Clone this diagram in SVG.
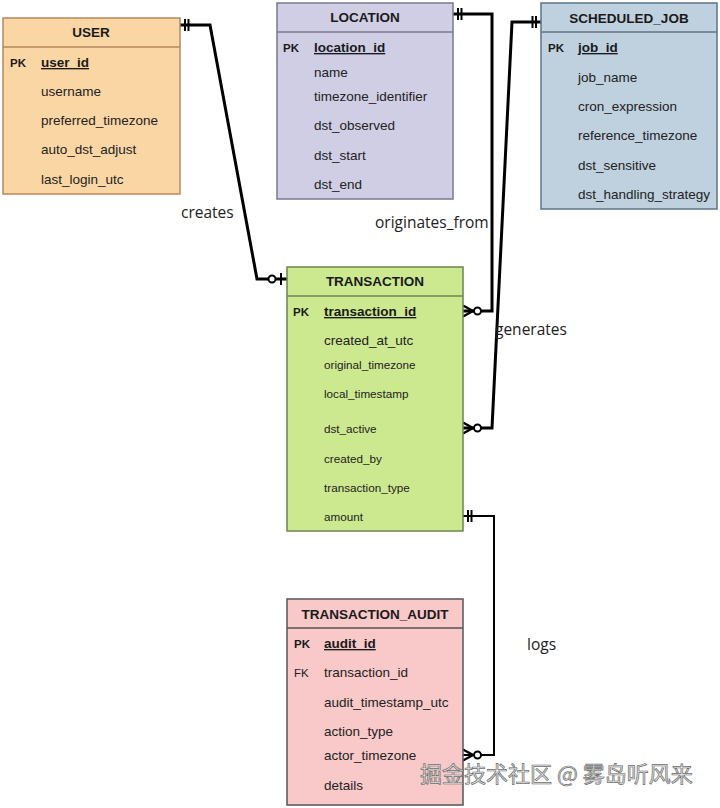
<svg xmlns="http://www.w3.org/2000/svg" width="720" height="808" viewBox="0 0 720 808">
<style>
.box{stroke-width:1.5}
.hd{font-family:"Liberation Sans",Arial,sans-serif;font-weight:bold;font-size:13.5px;fill:#1a1a1a;text-anchor:middle}
.f{font-family:"Liberation Sans",Arial,sans-serif;font-size:13.5px;fill:#222}
.fs{font-family:"Liberation Sans",Arial,sans-serif;font-size:11.7px;fill:#222}
.pk{font-family:"Liberation Sans",Arial,sans-serif;font-size:11.5px;font-weight:bold;fill:#1a1a1a}
.fk{font-family:"Liberation Sans",Arial,sans-serif;font-size:11.5px;fill:#222}
.key{font-family:"Liberation Sans",Arial,sans-serif;font-size:13.5px;font-weight:bold;fill:#1a1a1a;text-decoration:underline}
.lbl{font-family:"Open Sans","Noto Sans",sans-serif;font-size:15.5px;fill:#222}
.conn{fill:none;stroke:#000;stroke-width:3;stroke-linejoin:miter}
.wm{font-family:"Noto Sans CJK SC","Noto Sans",sans-serif;font-size:22px;fill:#e6e6e6;stroke:#6e6e6e;stroke-width:0.7}
</style>
<defs>
<marker id="one" markerUnits="userSpaceOnUse" viewBox="-20 -10 20 20" markerWidth="20" markerHeight="20" refX="0" refY="0" orient="auto-start-reverse" overflow="visible">
<path d="M-5,-6 V6 M-8.5,-6 V6" stroke="#000" stroke-width="2" fill="none"/>
</marker>
<marker id="zeroOne" markerUnits="userSpaceOnUse" viewBox="-20 -10 20 20" markerWidth="20" markerHeight="20" refX="0" refY="0" orient="auto-start-reverse" overflow="visible">
<path d="M-6,-6 V6" stroke="#000" stroke-width="2" fill="none"/>
<circle cx="-15" cy="0" r="3.5" fill="#fff" stroke="#000" stroke-width="2"/>
</marker>
<marker id="zeroMany" markerUnits="userSpaceOnUse" viewBox="-20 -10 20 20" markerWidth="20" markerHeight="20" refX="0" refY="0" orient="auto-start-reverse" overflow="visible">
<path d="M0,-5.5 L-10,0 L0,5.5" stroke="#000" stroke-width="2.4" fill="none"/>
<circle cx="-14.5" cy="0" r="3.5" fill="#fff" stroke="#000" stroke-width="2"/>
</marker>
</defs>
<rect width="720" height="808" fill="#fff"/>

<g id="connectors">
<path class="conn" d="M180,25 H210 L257,279 H287" marker-start="url(#one)" marker-end="url(#zeroOne)"/>
<path class="conn" d="M453,14 H492 V311 H463" marker-start="url(#one)" marker-end="url(#zeroMany)"/>
<path class="conn" d="M541,22 H512 L492,428 H463" marker-start="url(#one)" marker-end="url(#zeroMany)"/>
<path class="conn" style="stroke-width:2" d="M463,516 H494 V755 H463" marker-start="url(#one)" marker-end="url(#zeroMany)"/>
<text class="lbl" x="181" y="218">creates</text>
<text class="lbl" x="375" y="228">originates_from</text>
<text class="lbl" x="495" y="335">generates</text>
<text class="lbl" x="527" y="650">logs</text>
</g>

<g id="user">
<rect class="box" x="3" y="18" width="177" height="176" fill="#fad6a5" stroke="#b8895a"/>
<line x1="3" y1="47" x2="180" y2="47" stroke="#b8895a" stroke-width="1.5"/>
<text class="hd" x="91" y="37">USER</text>
<text class="pk" x="10" y="67">PK</text>
<text class="key" x="41" y="67">user_id</text>
<text class="f" x="41" y="96">username</text>
<text class="f" x="41" y="125">preferred_timezone</text>
<text class="f" x="41" y="154">auto_dst_adjust</text>
<text class="f" x="41" y="184">last_login_utc</text>
</g>

<g id="location">
<rect class="box" x="277" y="3" width="176" height="196" fill="#d0cee4" stroke="#7a7a8e"/>
<line x1="277" y1="32" x2="453" y2="32" stroke="#7a7a8e" stroke-width="1.5"/>
<text class="hd" x="365" y="22">LOCATION</text>
<text class="pk" x="283" y="52">PK</text>
<text class="key" x="314" y="52">location_id</text>
<text class="f" x="314" y="77">name</text>
<text class="f" x="314" y="101">timezone_identifier</text>
<text class="f" x="314" y="130">dst_observed</text>
<text class="f" x="314" y="160">dst_start</text>
<text class="f" x="314" y="189">dst_end</text>
</g>

<g id="scheduled_job">
<rect class="box" x="541" y="3" width="176" height="206" fill="#bfd0de" stroke="#5f7384"/>
<line x1="541" y1="32" x2="717" y2="32" stroke="#5f7384" stroke-width="1.5"/>
<text class="hd" x="629" y="23">SCHEDULED_JOB</text>
<text class="pk" x="548" y="52">PK</text>
<text class="key" x="578" y="52">job_id</text>
<text class="f" x="578" y="82">job_name</text>
<text class="f" x="578" y="111">cron_expression</text>
<text class="f" x="578" y="140">reference_timezone</text>
<text class="f" x="578" y="170">dst_sensitive</text>
<text class="f" x="578" y="199">dst_handling_strategy</text>
</g>

<g id="transaction">
<rect class="box" x="287" y="267" width="176" height="264" fill="#cde98f" stroke="#6f8250"/>
<line x1="287" y1="296" x2="463" y2="296" stroke="#6f8250" stroke-width="1.5"/>
<text class="hd" x="375" y="286">TRANSACTION</text>
<text class="pk" x="293" y="316">PK</text>
<text class="key" x="324" y="316">transaction_id</text>
<text class="f" x="324" y="345">created_at_utc</text>
<text class="fs" x="324" y="369">original_timezone</text>
<text class="fs" x="324" y="398">local_timestamp</text>
<text class="fs" x="324" y="433">dst_active</text>
<text class="fs" x="324" y="463">created_by</text>
<text class="fs" x="324" y="492">transaction_type</text>
<text class="fs" x="324" y="521">amount</text>
</g>

<g id="transaction_audit">
<rect class="box" x="287" y="599" width="176" height="206" fill="#f8c9c8" stroke="#555"/>
<line x1="287" y1="628" x2="463" y2="628" stroke="#555" stroke-width="1.5"/>
<text class="hd" x="375" y="619">TRANSACTION_AUDIT</text>
<text class="pk" x="294" y="648">PK</text>
<text class="key" x="324" y="648">audit_id</text>
<text class="fk" x="294" y="677">FK</text>
<text class="f" x="324" y="677">transaction_id</text>
<text class="f" x="324" y="707">audit_timestamp_utc</text>
<text class="f" x="324" y="736">action_type</text>
<text class="f" x="324" y="760">actor_timezone</text>
<text class="f" x="324" y="790">details</text>
</g>

<text class="wm" x="420" y="782">掘金技术社区 @ 雾岛听风来</text>
</svg>
